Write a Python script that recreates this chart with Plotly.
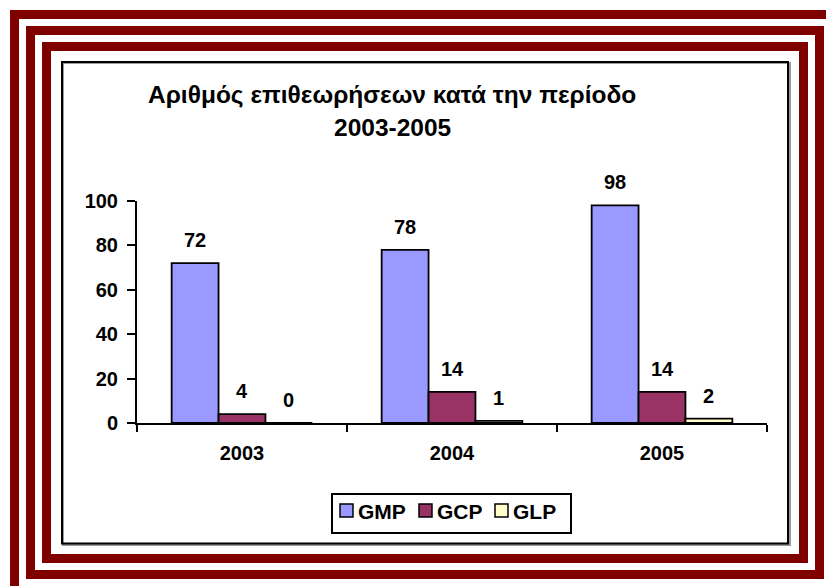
import plotly.graph_objects as go

# Inspections per year and type
years = ["2003", "2004", "2005"]
gmp = [72, 78, 98]
gcp = [4, 14, 14]
glp = [0, 1, 2]

series_names = ["GMP", "GCP", "GLP"]
series_values = [gmp, gcp, glp]
series_colors = ["#9999FF", "#993366", "#FFFFCC"]

title_line1 = "Αριθμός επιθεωρήσεων κατά την περίοδο"
title_line2 = "2003-2005"

FONT = "Liberation Sans, Arial, sans-serif"
FIG_W, FIG_H = 826, 586
L, R, T, B = 137, 59, 201, 163
PW, PH = FIG_W - L - R, FIG_H - T - B
BARGAP = 0.33


def px_x(px):
    return (px - L) / PW


def px_y(py):
    return 1 - (py - T) / PH


fig = go.Figure()
for name, vals, col in zip(series_names, series_values, series_colors):
    fig.add_trace(go.Bar(
        x=years, y=vals, name=name,
        marker=dict(color=col, line=dict(color="black", width=1.8)),
    ))

annotations = []

# value labels above each bar
bar_w = (1 - BARGAP) / len(series_names)
for k, vals in enumerate(series_values):
    for i, v in enumerate(vals):
        annotations.append(dict(
            x=i + (k - 1) * bar_w, y=v, xref="x", yref="y",
            text=f"<b>{v}</b>", showarrow=False, yanchor="middle",
            yshift=23, font=dict(family=FONT, size=20, color="black"),
        ))

# two-line title
for text, ypx in [(title_line1, 94), (title_line2, 127)]:
    annotations.append(dict(
        x=px_x(392), y=px_y(ypx), xref="paper", yref="paper",
        text=f"<b>{text}</b>", showarrow=False,
        xanchor="center", yanchor="middle",
        font=dict(family=FONT, size=24.5, color="black"),
    ))

shapes = []

# decorative frames
frame_color = "#800000"
for x0, y0, x1, y1 in [(14.5, 14.5, 860, 620),
                       (30.5, 30.5, 819.5, 574.5),
                       (46.5, 46.5, 803.5, 558.5)]:
    shapes.append(dict(type="rect", xref="paper", yref="paper",
                       x0=px_x(x0), x1=px_x(x1), y0=px_y(y0), y1=px_y(y1),
                       line=dict(color=frame_color, width=9),
                       fillcolor="rgba(0,0,0,0)", layer="below"))
# chart-area border with a soft shadow
shapes.append(dict(type="rect", xref="paper", yref="paper",
                   x0=px_x(63), x1=px_x(790), y0=px_y(63), y1=px_y(545),
                   line=dict(color="#9a9a9a", width=2),
                   fillcolor="rgba(0,0,0,0)", layer="below"))
shapes.append(dict(type="rect", xref="paper", yref="paper",
                   x0=px_x(62), x1=px_x(788), y0=px_y(62), y1=px_y(543.5),
                   line=dict(color="black", width=2),
                   fillcolor="rgba(0,0,0,0)", layer="below"))

# legend box with swatches
shapes.append(dict(type="rect", xref="paper", yref="paper",
                   x0=px_x(332), x1=px_x(571), y0=px_y(494), y1=px_y(533),
                   line=dict(color="black", width=2), fillcolor="white"))
swatch_x = [340, 419, 495]
for sx, name, col in zip(swatch_x, series_names, series_colors):
    shapes.append(dict(type="rect", xref="paper", yref="paper",
                       x0=px_x(sx), x1=px_x(sx + 13),
                       y0=px_y(504), y1=px_y(517),
                       line=dict(color="black", width=1.5), fillcolor=col))
    annotations.append(dict(
        x=px_x(sx + 16), y=px_y(511), xref="paper", yref="paper",
        text=f"<b>{name}</b>", showarrow=False,
        xanchor="left", yanchor="middle",
        font=dict(family=FONT, size=21, color="black"),
    ))

fig.update_layout(
    width=FIG_W, height=FIG_H,
    margin=dict(l=L, r=R, t=T, b=B, pad=0),
    paper_bgcolor="white", plot_bgcolor="white",
    barmode="group", bargap=BARGAP, bargroupgap=0,
    font=dict(family=FONT, size=20, color="black", weight="bold"),
    showlegend=False,
    annotations=annotations,
    shapes=shapes,
    xaxis=dict(
        type="category", range=[-0.5, 2.5],
        showline=True, linecolor="black", linewidth=2,
        ticks="outside", tickson="boundaries", ticklen=7,
        tickwidth=2, tickcolor="black",
        showgrid=False, zeroline=False,
        ticklabelstandoff=11,
        tickfont=dict(family=FONT, size=20, color="black", weight="bold"),
    ),
    yaxis=dict(
        range=[0, 100], tickvals=[0, 20, 40, 60, 80, 100],
        showline=True, linecolor="black", linewidth=2,
        ticks="outside", ticklen=8, tickwidth=2, tickcolor="black",
        showgrid=False, zeroline=False,
        ticklabelstandoff=5,
        tickfont=dict(family=FONT, size=20, color="black", weight="bold"),
    ),
)

fig.write_html("out.html")
